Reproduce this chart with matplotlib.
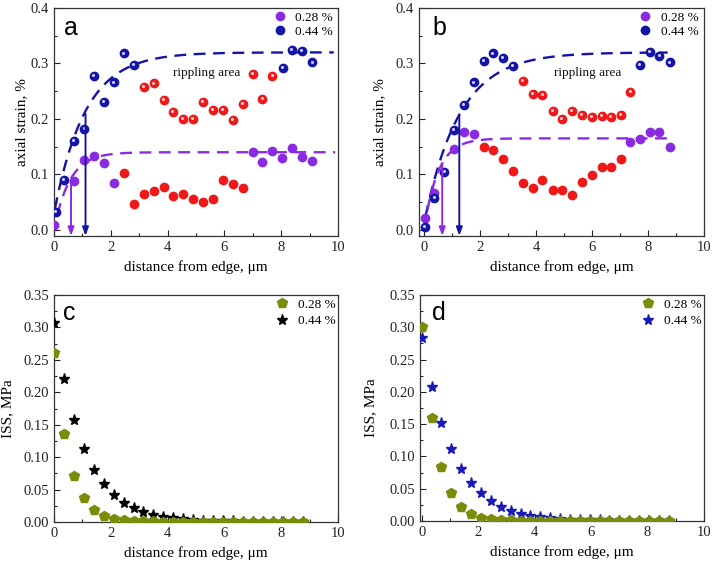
import numpy as np
import matplotlib.pyplot as plt
from matplotlib.transforms import ScaledTranslation
from matplotlib.ticker import MultipleLocator, FormatStrFormatter

plt.rcParams['font.family'] = 'Liberation Serif'
plt.rcParams['mathtext.fontset'] = 'custom'
plt.rcParams['mathtext.rm'] = 'Liberation Serif'

PURPLE = '#8a2be2'
BLUE = '#1414a8'
RED = '#f01818'
GREEN = '#7a8c0a'

# ---- panel a data ----
a_blue_x = [0.06, 0.36, 0.70, 1.07, 1.41, 1.76, 2.10, 2.45, 2.80, 8.05, 8.39, 8.73, 9.10]
a_blue_y = [0.032, 0.090, 0.161, 0.182, 0.278, 0.230, 0.266, 0.318, 0.298, 0.292, 0.325, 0.322, 0.302]
a_purple_x = [0.0, 0.70, 1.07, 1.41, 1.76, 2.10, 7.00, 7.34, 7.69, 8.04, 8.39, 8.73, 9.10]
a_purple_y = [0.009, 0.089, 0.126, 0.133, 0.121, 0.085, 0.141, 0.123, 0.142, 0.130, 0.147, 0.132, 0.124]
a_red_hi_x = [3.16, 3.51, 3.86, 4.20, 4.54, 4.89, 5.23, 5.59, 5.94, 6.29, 6.64, 6.99, 7.34, 7.69]
a_red_hi_y = [0.257, 0.264, 0.234, 0.213, 0.200, 0.200, 0.230, 0.216, 0.216, 0.199, 0.227, 0.281, 0.236, 0.278]
a_red_lo_x = [2.45, 2.80, 3.16, 3.51, 3.86, 4.20, 4.54, 4.89, 5.23, 5.59, 5.94, 6.29, 6.64]
a_red_lo_y = [0.103, 0.046, 0.065, 0.071, 0.077, 0.062, 0.065, 0.055, 0.051, 0.056, 0.090, 0.082, 0.076]

# ---- panel b data ----
b_blue_x = [0.02, 0.37, 0.73, 1.07, 1.43, 1.77, 2.13, 2.47, 2.82, 3.17, 7.72, 8.07, 8.41, 8.78]
b_blue_y = [0.005, 0.058, 0.105, 0.180, 0.225, 0.266, 0.304, 0.318, 0.310, 0.295, 0.298, 0.321, 0.313, 0.302]
b_purple_x = [0.02, 0.37, 1.07, 1.43, 1.77, 7.36, 7.72, 8.07, 8.41, 8.78]
b_purple_y = [0.021, 0.066, 0.146, 0.176, 0.173, 0.158, 0.164, 0.176, 0.176, 0.149]
b_red_hi_x = [3.53, 3.88, 4.23, 4.59, 4.93, 5.29, 5.64, 5.99, 6.34, 6.68, 7.03, 7.37]
b_red_hi_y = [0.268, 0.245, 0.244, 0.214, 0.200, 0.215, 0.208, 0.203, 0.206, 0.203, 0.208, 0.249]
b_red_lo_x = [2.13, 2.47, 2.83, 3.17, 3.53, 3.88, 4.23, 4.59, 4.93, 5.29, 5.64, 5.99, 6.34, 6.68, 7.03]
b_red_lo_y = [0.150, 0.144, 0.128, 0.107, 0.085, 0.076, 0.090, 0.072, 0.072, 0.063, 0.086, 0.099, 0.113, 0.113, 0.128]

# exponential fits: plateau, amplitude, tau, x start, x end
a_fit_blue = (0.32, 0.29, 1.10, 0.03, 9.85)
a_fit_purple = (0.14, 0.14, 0.55, 0.12, 9.9)
b_fit_blue = (0.32, 0.308, 1.25, 0.05, 8.7)
b_fit_purple = (0.165, 0.165, 0.50, 0.12, 8.7)

# arrows: x, top y
a_arrows = [(0.60, 0.090, PURPLE), (1.11, 0.209, BLUE)]
b_arrows = [(0.65, 0.120, PURPLE), (1.26, 0.208, BLUE)]

# ---- panel c / d data (ISS) ----
iss_x = [0.35 * i for i in range(26)]
c_028 = [0.260, 0.135, 0.071, 0.037, 0.019, 0.010, 0.005, 0.003, 0.002, 0.001, 0.001,
         0.0005, 0.0003, 0.0002, 0.0001, 0.0001, 0, 0, 0, 0, 0, 0, 0, 0, 0, 0]
c_044 = [0.307, 0.220, 0.157, 0.112, 0.080, 0.058, 0.041, 0.029, 0.021, 0.015, 0.011,
         0.008, 0.006, 0.004, 0.003, 0.002, 0.0015, 0.001, 0.0008, 0.0006, 0.0004,
         0.0003, 0.0002, 0.0002, 0.0001, 0.0001]
d_028 = [0.300, 0.159, 0.083, 0.043, 0.022, 0.011, 0.005, 0.003, 0.002, 0.001, 0.0005,
         0.0003, 0.0002, 0.0001, 0.0001, 0, 0, 0, 0, 0, 0, 0, 0, 0, 0, 0]
d_044 = [0.284, 0.208, 0.152, 0.111, 0.081, 0.059, 0.043, 0.031, 0.022, 0.016, 0.011,
         0.008, 0.006, 0.004, 0.003, 0.002, 0.0015, 0.001, 0.0008, 0.0006, 0.0004,
         0.0003, 0.0002, 0.0002, 0.0001, 0.0001]

fig = plt.figure(figsize=(7.15, 5.65), dpi=100)
W, H = 715, 565


def add_axes(l, r, t, b):
    return fig.add_axes([l / W, 1 - b / H, (r - l) / W, (b - t) / H])


ax_a = add_axes(54, 338, 8, 236)
ax_b = add_axes(419, 704, 8, 236)
ax_c = add_axes(54, 338, 295, 522)
ax_d = add_axes(420, 704, 295, 521)


def style(ax, ymajor, yminor, fmt):
    ax.xaxis.set_major_locator(MultipleLocator(2))
    ax.xaxis.set_minor_locator(MultipleLocator(1))
    ax.yaxis.set_major_locator(MultipleLocator(ymajor))
    ax.yaxis.set_minor_locator(MultipleLocator(yminor))
    ax.yaxis.set_major_formatter(FormatStrFormatter(fmt))
    ax.tick_params(which='both', direction='in', top=False, right=False,
                   labelsize=10.5, colors='#222222')
    ax.tick_params(which='major', length=4, width=0.8)
    ax.tick_params(which='minor', length=2.5, width=0.8)
    for s in ax.spines.values():
        s.set_color('#333333')
        s.set_linewidth(0.9)
    ax.set_xlabel('distance from edge, μm', fontsize=11)


def balls(ax, x, y, color, shine):
    ax.plot(x, y, 'o', color=color, ms=6, mec=color, zorder=3)
    if shine:
        off = ax.transData + ScaledTranslation(-0.6 / 72, 0.6 / 72, fig.dpi_scale_trans)
        ax.plot(x, y, 'o', color='white', ms=2.2, mec='none', alpha=0.8,
                transform=off, zorder=4)


def fit(ax, p, color):
    plateau, amp, tau, x0, x1 = p
    xs = np.linspace(x0, x1, 300)
    ax.plot(xs, plateau - amp * np.exp(-xs / tau), color=color, lw=1.7,
            dashes=(5, 3.2), zorder=2)


def arrows(ax, arr, ybot):
    for x, yt, c in arr:
        ax.annotate('', xy=(x, ybot), xytext=(x, yt),
                    arrowprops=dict(arrowstyle='-|>,head_width=0.18,head_length=0.5',
                                    color=c, lw=1.4, shrinkA=0, shrinkB=0), zorder=5)


# panel a / b
for ax, bx, by, px, py, rhx, rhy, rlx, rly, fb, fp, arr, xl, let, rx in [
        (ax_a, a_blue_x, a_blue_y, a_purple_x, a_purple_y, a_red_hi_x, a_red_hi_y,
         a_red_lo_x, a_red_lo_y, a_fit_blue, a_fit_purple, a_arrows, (0, 10), 'a', 4.2),
        (ax_b, b_blue_x, b_blue_y, b_purple_x, b_purple_y, b_red_hi_x, b_red_hi_y,
         b_red_lo_x, b_red_lo_y, b_fit_blue, b_fit_purple, b_arrows, (-0.18, 10), 'b', 4.64)]:
    style(ax, 0.1, 0.05, '%.1f')
    ax.set_xlim(*xl)
    ax.set_ylim(-0.011, 0.4)
    fit(ax, fb, BLUE)
    fit(ax, fp, PURPLE)
    arrows(ax, arr, -0.011)
    balls(ax, rhx, rhy, RED, True)
    balls(ax, rlx, rly, RED, False)
    balls(ax, px, py, PURPLE, False)
    balls(ax, bx, by, BLUE, True)
    ax.set_ylabel('axial strain, %', fontsize=11)
    ax.text(rx, 0.283, 'rippling area', fontsize=9.5, va='center', color='#111111')
    ax.text(0.035 if let == 'a' else 0.046, 0.88, let, family='Liberation Sans',
            fontsize=18, transform=ax.transAxes, va='baseline')
    h1, = ax.plot([], [], 'o', color=PURPLE, ms=6, label='0.28 %')
    h2, = ax.plot([], [], 'o', color=BLUE, ms=6, label='0.44 %')
    ax.legend(handles=[h1, h2], loc='upper left', bbox_to_anchor=(0.771, 0.985),
              frameon=False, fontsize=9.5, handlelength=1.0, handletextpad=0.7,
              borderpad=0, borderaxespad=0, labelspacing=0.15)

ax_a.yaxis.set_label_coords(-0.092, 0.5)
ax_b.yaxis.set_label_coords(-0.116, 0.5)
ax_a.xaxis.set_label_coords(0.5, -0.105)
ax_b.xaxis.set_label_coords(0.5, -0.105)

# panel c / d
for ax, y28, y44, c44, xl, let, lx in [
        (ax_c, c_028, c_044, 'black', (0, 10), 'c', 0.033),
        (ax_d, d_028, d_044, '#1a1ab8', (-0.06, 10), 'd', 0.042)]:
    style(ax, 0.05, 0.025, '%.2f')
    ax.set_xlim(*xl)
    ax.set_ylim(0, 0.35)
    ax.plot(iss_x, y44, '*', color=c44, ms=8, mec=c44, zorder=3, label='0.44 %')
    ax.plot(iss_x, y28, 'p', color=GREEN, ms=7.5, mec=GREEN, zorder=4, label='0.28 %')
    ax.set_ylabel('ISS, MPa', fontsize=11)
    ax.text(lx, 0.89, let, family='Liberation Sans', fontsize=18,
            transform=ax.transAxes, va='baseline')
    hs, ls = ax.get_legend_handles_labels()
    ax.legend(hs[::-1], ls[::-1], loc='upper left', bbox_to_anchor=(0.78, 0.985),
              frameon=False, fontsize=9.5, handlelength=1.0, handletextpad=0.7,
              borderpad=0, borderaxespad=0, labelspacing=0.35)

ax_c.yaxis.set_label_coords(-0.141, 0.5)
ax_d.yaxis.set_label_coords(-0.151, 0.5)
ax_c.xaxis.set_label_coords(0.5, -0.106)
ax_d.xaxis.set_label_coords(0.5, -0.106)

fig.savefig('out.png', dpi=100)
